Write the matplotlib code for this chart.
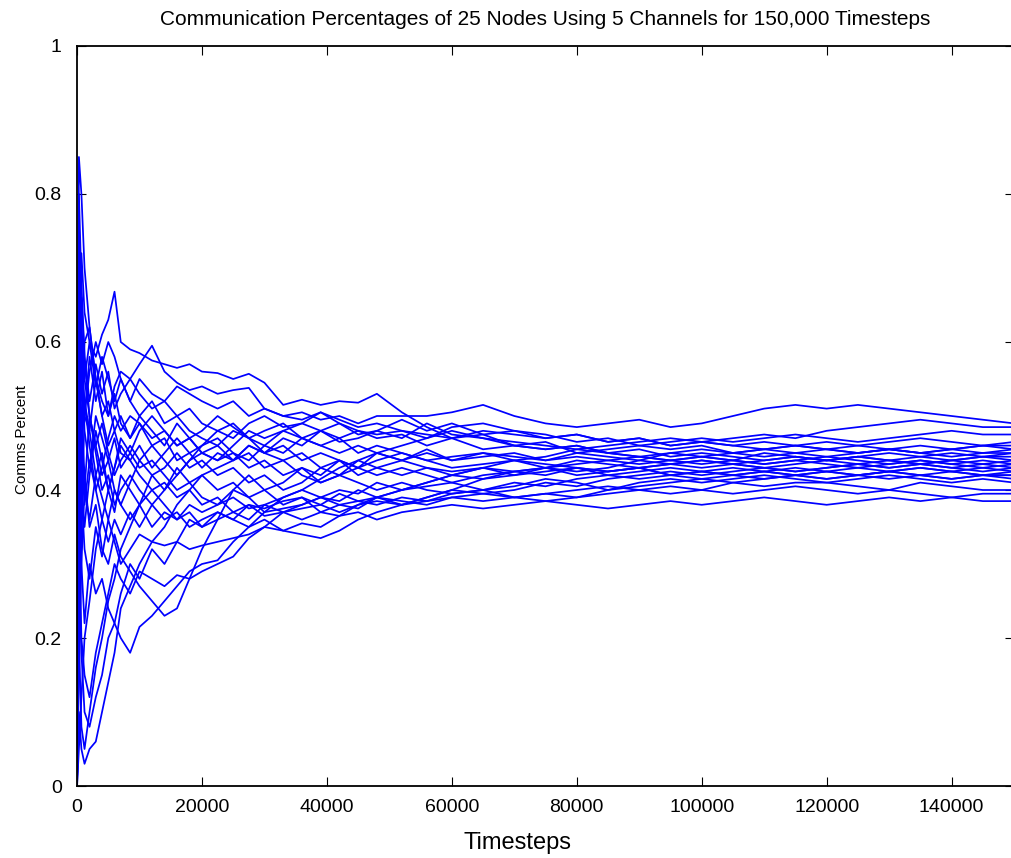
import numpy as np
import matplotlib
matplotlib.use("Agg")
from matplotlib import pyplot as plt

timesteps = [0, 300, 700, 1200, 2000, 3000, 4000, 5000, 6000, 7000,
             8500, 10000, 12000, 14000, 16000, 18000, 20000,
             22500, 25000, 27500, 30000, 33000, 36000, 39000, 42000, 45000, 48000,
             52000, 56000, 60000, 65000, 70000, 75000, 80000, 85000, 90000, 95000,
             100000, 105000, 110000, 115000, 120000, 125000, 130000, 135000, 140000, 145000, 150000]

node01 = [0.00, 0.55, 0.72, 0.64, 0.60, 0.58, 0.61, 0.63, 0.668, 0.60,
          0.59, 0.585, 0.575, 0.57, 0.565, 0.57, 0.56,
          0.558, 0.55, 0.557, 0.545, 0.515, 0.522, 0.515, 0.52, 0.518, 0.53,
          0.505, 0.485, 0.47, 0.475, 0.46, 0.455, 0.46, 0.45, 0.455, 0.445,
          0.45, 0.445, 0.44, 0.445, 0.44, 0.435, 0.44, 0.435, 0.44, 0.435, 0.44]
node02 = [0.00, 0.30, 0.45, 0.52, 0.48, 0.55, 0.52, 0.50, 0.54, 0.56,
          0.55, 0.57, 0.595, 0.56, 0.545, 0.535, 0.54,
          0.53, 0.535, 0.538, 0.51, 0.50, 0.505, 0.495, 0.50, 0.49, 0.50,
          0.50, 0.50, 0.505, 0.515, 0.50, 0.49, 0.485, 0.49, 0.495, 0.485,
          0.49, 0.50, 0.51, 0.515, 0.51, 0.515, 0.51, 0.505, 0.50, 0.495, 0.49]
node03 = [0.00, 0.85, 0.80, 0.70, 0.62, 0.55, 0.50, 0.52, 0.48, 0.50,
          0.47, 0.50, 0.48, 0.46, 0.49, 0.47, 0.48,
          0.50, 0.485, 0.47, 0.48, 0.49, 0.47, 0.48, 0.465, 0.47, 0.48,
          0.47, 0.49, 0.475, 0.47, 0.465, 0.46, 0.455, 0.46, 0.465, 0.47,
          0.465, 0.47, 0.475, 0.47, 0.48, 0.485, 0.49, 0.495, 0.49, 0.485, 0.485]
node04 = [0.00, 0.20, 0.45, 0.60, 0.62, 0.55, 0.50, 0.46, 0.48, 0.45,
          0.44, 0.46, 0.43, 0.45, 0.47, 0.45, 0.46,
          0.48, 0.47, 0.49, 0.50, 0.485, 0.49, 0.505, 0.49, 0.48, 0.47,
          0.475, 0.46, 0.47, 0.455, 0.46, 0.465, 0.45, 0.455, 0.46, 0.465,
          0.47, 0.465, 0.47, 0.475, 0.47, 0.465, 0.47, 0.475, 0.48, 0.475, 0.475]
node05 = [0.00, 0.10, 0.05, 0.03, 0.05, 0.06, 0.10, 0.14, 0.18, 0.24,
          0.27, 0.30, 0.33, 0.35, 0.38, 0.40, 0.42,
          0.43, 0.44, 0.46, 0.45, 0.47, 0.46, 0.48, 0.49, 0.475, 0.48,
          0.495, 0.48, 0.49, 0.475, 0.48, 0.47, 0.475, 0.465, 0.47, 0.46,
          0.465, 0.46, 0.455, 0.46, 0.465, 0.46, 0.465, 0.47, 0.465, 0.46, 0.465]
node06 = [0.00, 0.45, 0.30, 0.22, 0.30, 0.26, 0.28, 0.24, 0.22, 0.20,
          0.18, 0.215, 0.23, 0.25, 0.27, 0.29, 0.30,
          0.305, 0.33, 0.35, 0.37, 0.39, 0.40, 0.415, 0.43, 0.44, 0.45,
          0.46, 0.47, 0.485, 0.49, 0.48, 0.475, 0.465, 0.47, 0.46, 0.455,
          0.46, 0.45, 0.455, 0.46, 0.455, 0.45, 0.455, 0.46, 0.455, 0.46, 0.46]
node07 = [0.00, 0.60, 0.50, 0.42, 0.35, 0.38, 0.32, 0.30, 0.34, 0.31,
          0.29, 0.27, 0.25, 0.23, 0.24, 0.28, 0.32,
          0.36, 0.40, 0.42, 0.40, 0.41, 0.43, 0.42, 0.44, 0.43, 0.45,
          0.44, 0.455, 0.44, 0.45, 0.445, 0.44, 0.45, 0.445, 0.44, 0.45,
          0.455, 0.45, 0.445, 0.45, 0.455, 0.45, 0.455, 0.45, 0.455, 0.45, 0.455]
node08 = [0.00, 0.25, 0.40, 0.32, 0.28, 0.35, 0.31, 0.36, 0.33, 0.30,
          0.32, 0.34, 0.33, 0.325, 0.33, 0.32, 0.325,
          0.33, 0.335, 0.34, 0.35, 0.345, 0.34, 0.335, 0.345, 0.36, 0.37,
          0.38, 0.39, 0.40, 0.415, 0.42, 0.43, 0.435, 0.44, 0.445, 0.44,
          0.445, 0.44, 0.45, 0.445, 0.44, 0.445, 0.45, 0.445, 0.45, 0.445, 0.45]
node09 = [0.00, 0.35, 0.20, 0.15, 0.12, 0.18, 0.22, 0.26, 0.30, 0.28,
          0.26, 0.29, 0.28, 0.27, 0.285, 0.28, 0.29,
          0.30, 0.31, 0.335, 0.35, 0.37, 0.38, 0.39, 0.385, 0.40, 0.39,
          0.40, 0.41, 0.42, 0.415, 0.425, 0.43, 0.425, 0.43, 0.44, 0.435,
          0.44, 0.435, 0.44, 0.445, 0.44, 0.445, 0.44, 0.445, 0.44, 0.445, 0.445]
node10 = [0.00, 0.70, 0.60, 0.50, 0.48, 0.42, 0.45, 0.40, 0.43, 0.46,
          0.44, 0.42, 0.40, 0.41, 0.39, 0.40, 0.38,
          0.39, 0.37, 0.38, 0.365, 0.37, 0.36, 0.37, 0.365, 0.37, 0.36,
          0.37, 0.375, 0.38, 0.375, 0.38, 0.385, 0.38, 0.375, 0.38, 0.385,
          0.38, 0.385, 0.39, 0.385, 0.38, 0.385, 0.39, 0.385, 0.39, 0.395, 0.395]
node11 = [0.00, 0.50, 0.62, 0.55, 0.50, 0.46, 0.42, 0.44, 0.40, 0.38,
          0.36, 0.38, 0.35, 0.37, 0.36, 0.38, 0.37,
          0.38, 0.39, 0.375, 0.38, 0.39, 0.40, 0.39, 0.38, 0.385, 0.39,
          0.38, 0.385, 0.39, 0.395, 0.39, 0.385, 0.39, 0.395, 0.40, 0.405,
          0.40, 0.41, 0.405, 0.41, 0.41, 0.405, 0.40, 0.395, 0.39, 0.385, 0.385]
node12 = [0.00, 0.15, 0.30, 0.40, 0.50, 0.45, 0.40, 0.42, 0.38, 0.40,
          0.42, 0.40, 0.38, 0.36, 0.37, 0.35, 0.36,
          0.37, 0.36, 0.38, 0.375, 0.385, 0.39, 0.38, 0.395, 0.385, 0.38,
          0.39, 0.385, 0.395, 0.40, 0.39, 0.395, 0.40, 0.405, 0.40, 0.395,
          0.40, 0.395, 0.40, 0.405, 0.40, 0.395, 0.40, 0.41, 0.405, 0.40, 0.40]
node13 = [0.00, 0.40, 0.55, 0.48, 0.43, 0.50, 0.47, 0.44, 0.47, 0.43,
          0.45, 0.43, 0.44, 0.42, 0.40, 0.41, 0.39,
          0.38, 0.40, 0.39, 0.37, 0.375, 0.38, 0.39, 0.40, 0.395, 0.41,
          0.40, 0.405, 0.41, 0.40, 0.405, 0.415, 0.41, 0.40, 0.41, 0.415,
          0.41, 0.415, 0.42, 0.415, 0.41, 0.415, 0.42, 0.415, 0.41, 0.415, 0.41]
node14 = [0.00, 0.65, 0.58, 0.52, 0.46, 0.40, 0.43, 0.47, 0.50, 0.48,
          0.50, 0.49, 0.47, 0.48, 0.46, 0.47, 0.45,
          0.44, 0.45, 0.43, 0.44, 0.42, 0.43, 0.41, 0.42, 0.41, 0.40,
          0.41, 0.40, 0.395, 0.40, 0.41, 0.405, 0.415, 0.42, 0.415, 0.42,
          0.425, 0.42, 0.415, 0.42, 0.425, 0.42, 0.415, 0.42, 0.415, 0.42, 0.415]
node15 = [0.00, 0.20, 0.35, 0.50, 0.58, 0.52, 0.56, 0.50, 0.53, 0.49,
          0.47, 0.49, 0.46, 0.47, 0.44, 0.45, 0.43,
          0.45, 0.44, 0.46, 0.45, 0.44, 0.45, 0.43, 0.44, 0.42, 0.43,
          0.42, 0.43, 0.425, 0.43, 0.42, 0.425, 0.43, 0.42, 0.425, 0.43,
          0.425, 0.42, 0.425, 0.43, 0.425, 0.42, 0.425, 0.43, 0.425, 0.42, 0.42]
node16 = [0.00, 0.80, 0.68, 0.58, 0.50, 0.46, 0.49, 0.45, 0.42, 0.44,
          0.46, 0.44, 0.42, 0.43, 0.45, 0.43, 0.44,
          0.42, 0.43, 0.41, 0.42, 0.40, 0.41, 0.43, 0.42, 0.44, 0.43,
          0.44, 0.43, 0.42, 0.43, 0.44, 0.435, 0.43, 0.425, 0.43, 0.42,
          0.425, 0.43, 0.425, 0.42, 0.425, 0.43, 0.425, 0.43, 0.425, 0.43, 0.425]
node17 = [0.00, 0.50, 0.40, 0.35, 0.42, 0.48, 0.44, 0.40, 0.43, 0.47,
          0.45, 0.48, 0.50, 0.48, 0.46, 0.47, 0.45,
          0.46, 0.44, 0.45, 0.43, 0.44, 0.42, 0.41, 0.42, 0.43, 0.42,
          0.43, 0.42, 0.41, 0.42, 0.425, 0.42, 0.43, 0.425, 0.43, 0.435,
          0.43, 0.435, 0.43, 0.425, 0.43, 0.435, 0.43, 0.435, 0.43, 0.435, 0.43]
node18 = [0.00, 0.05, 0.12, 0.20, 0.25, 0.32, 0.36, 0.40, 0.37, 0.42,
          0.40, 0.38, 0.40, 0.38, 0.36, 0.37, 0.35,
          0.36, 0.37, 0.36, 0.38, 0.37, 0.375, 0.38, 0.37, 0.38, 0.385,
          0.38, 0.39, 0.40, 0.395, 0.40, 0.41, 0.405, 0.415, 0.42, 0.425,
          0.42, 0.425, 0.43, 0.425, 0.43, 0.435, 0.43, 0.435, 0.43, 0.425, 0.43]
node19 = [0.00, 0.75, 0.62, 0.55, 0.60, 0.54, 0.58, 0.55, 0.52, 0.55,
          0.52, 0.50, 0.52, 0.49, 0.50, 0.48, 0.47,
          0.46, 0.48, 0.47, 0.46, 0.48, 0.47, 0.46, 0.45, 0.46, 0.45,
          0.44, 0.45, 0.44, 0.445, 0.45, 0.44, 0.445, 0.44, 0.435, 0.44,
          0.435, 0.44, 0.435, 0.44, 0.445, 0.44, 0.435, 0.44, 0.435, 0.44, 0.435]
node20 = [0.00, 0.30, 0.18, 0.10, 0.08, 0.12, 0.15, 0.20, 0.22, 0.26,
          0.30, 0.28, 0.32, 0.30, 0.33, 0.36, 0.35,
          0.37, 0.36, 0.35, 0.36, 0.345, 0.355, 0.35, 0.365, 0.38, 0.39,
          0.40, 0.41, 0.42, 0.43, 0.425, 0.43, 0.44, 0.435, 0.43, 0.435,
          0.44, 0.435, 0.43, 0.435, 0.44, 0.445, 0.44, 0.435, 0.44, 0.445, 0.44]
node21 = [0.00, 0.60, 0.66, 0.58, 0.52, 0.57, 0.53, 0.56, 0.51, 0.53,
          0.55, 0.53, 0.51, 0.52, 0.50, 0.51, 0.49,
          0.48, 0.49, 0.47, 0.45, 0.46, 0.44, 0.45, 0.44, 0.43, 0.44,
          0.45, 0.44, 0.445, 0.45, 0.44, 0.445, 0.455, 0.45, 0.445, 0.45,
          0.445, 0.45, 0.455, 0.45, 0.445, 0.45, 0.455, 0.45, 0.445, 0.45, 0.45]
node22 = [0.00, 0.35, 0.48, 0.40, 0.36, 0.42, 0.39, 0.36, 0.40, 0.38,
          0.41, 0.44, 0.46, 0.44, 0.42, 0.44, 0.46,
          0.47, 0.45, 0.44, 0.46, 0.45, 0.47, 0.46, 0.47, 0.45, 0.46,
          0.45, 0.44, 0.43, 0.435, 0.44, 0.43, 0.42, 0.425, 0.43, 0.42,
          0.415, 0.42, 0.425, 0.42, 0.415, 0.42, 0.425, 0.42, 0.415, 0.42, 0.42]
node23 = [0.00, 0.45, 0.58, 0.50, 0.56, 0.60, 0.57, 0.60, 0.58, 0.55,
          0.52, 0.55, 0.53, 0.52, 0.54, 0.53, 0.52,
          0.51, 0.52, 0.50, 0.51, 0.50, 0.495, 0.505, 0.495, 0.485, 0.49,
          0.48, 0.47, 0.48, 0.47, 0.46, 0.455, 0.46, 0.45, 0.445, 0.44,
          0.445, 0.44, 0.435, 0.44, 0.435, 0.43, 0.435, 0.44, 0.435, 0.43, 0.435]
node24 = [0.00, 0.20, 0.08, 0.05, 0.10, 0.16, 0.20, 0.25, 0.28, 0.32,
          0.35, 0.38, 0.42, 0.40, 0.43, 0.41, 0.42,
          0.40, 0.41, 0.39, 0.40, 0.38, 0.39, 0.37, 0.38, 0.375, 0.39,
          0.385, 0.38, 0.39, 0.385, 0.39, 0.395, 0.39, 0.40, 0.405, 0.41,
          0.415, 0.41, 0.415, 0.42, 0.415, 0.42, 0.425, 0.42, 0.425, 0.42, 0.425]
node25 = [0.00, 0.55, 0.45, 0.38, 0.44, 0.40, 0.36, 0.33, 0.36, 0.34,
          0.37, 0.35, 0.38, 0.40, 0.42, 0.44, 0.45,
          0.44, 0.46, 0.48, 0.47, 0.48, 0.49, 0.48, 0.47, 0.48, 0.475,
          0.48, 0.475, 0.47, 0.48, 0.475, 0.47, 0.475, 0.465, 0.47, 0.46,
          0.465, 0.46, 0.465, 0.46, 0.455, 0.46, 0.455, 0.45, 0.455, 0.46, 0.455]

nodes = [node01, node02, node03, node04, node05, node06, node07, node08, node09, node10,
         node11, node12, node13, node14, node15, node16, node17, node18, node19, node20,
         node21, node22, node23, node24, node25]

xticks = [0, 20000, 40000, 60000, 80000, 100000, 120000, 140000]
yticks = [0, 0.2, 0.4, 0.6, 0.8, 1]
ytick_labels = ["0", "0.2", "0.4", "0.6", "0.8", "1"]

plt.rcParams['font.family'] = ['Liberation Sans', 'DejaVu Sans']

fig = plt.figure(figsize=(10.11, 8.58), dpi=100)
ax = fig.add_axes([0.0762, 0.0839, 0.9268, 0.8625])

for vals in nodes:
    ax.plot(timesteps, vals, color='#0000ff', lw=1.25)

ax.set_xlim(0, 150000)
ax.set_ylim(0, 1)
ax.set_xticks(xticks)
ax.set_xticklabels([str(t) for t in xticks])
ax.set_yticks(yticks)
ax.set_yticklabels(ytick_labels)
ax.tick_params(direction='in', length=6.5, width=0.8, top=True, right=True,
               labelsize=14, pad=9)
ax.tick_params(axis='y', pad=11)
for s in ax.spines.values():
    s.set_linewidth(1.3)

ax.set_title("Communication Percentages of 25 Nodes Using 5 Channels for 150,000 Timesteps",
             fontsize=15, pad=15)
ax.set_xlabel("Timesteps", fontsize=17)
ax.set_ylabel("Comms Percent", fontsize=11)
ax.xaxis.set_label_coords(0.4696, -0.062)
ax.yaxis.set_label_coords(-0.0515, 0.4676)

fig.savefig("out.png", dpi=100)
